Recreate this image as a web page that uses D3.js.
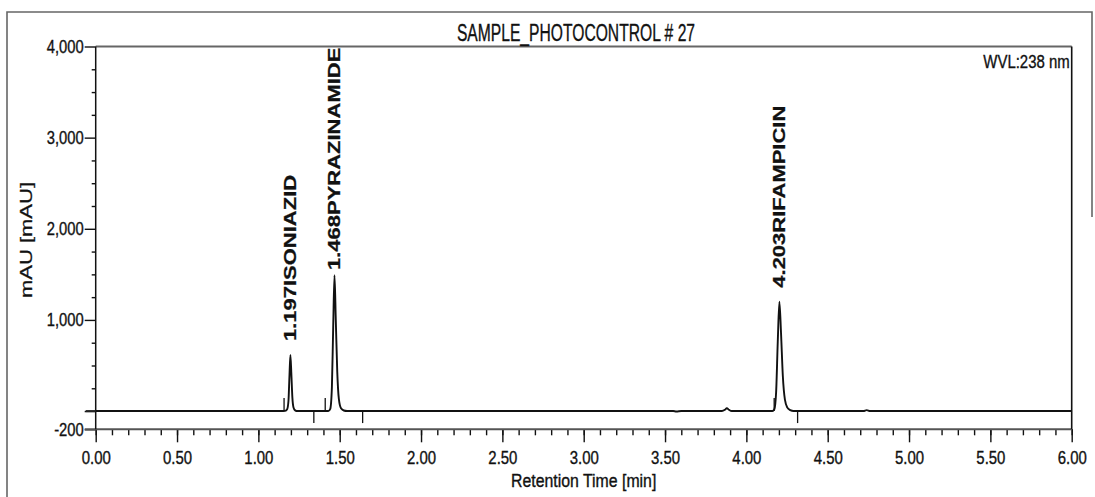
<!DOCTYPE html>
<html>
<head>
<meta charset="utf-8">
<script src="https://cdn.jsdelivr.net/npm/d3@7"></script>
<style>
  body { margin: 0; background: #fff; }
  text { font-family: "Liberation Sans", Arial, sans-serif; fill: #111; stroke: #111; stroke-width: 0.35px; }
</style>
</head>
<body>
<svg id="chrom" width="1095" height="497"></svg>
<script>
// chart texts
var title = "SAMPLE_PHOTOCONTROL # 27";
var wavelength = "WVL:238 nm";
var xTitle = "Retention Time [min]";
var yTitle = "mAU [mAU]";

// axis ticks
var xMajor = [0, 0.5, 1, 1.5, 2, 2.5, 3, 3.5, 4, 4.5, 5, 5.5, 6];
var yMajor = [-200, 0, 1000, 2000, 3000, 4000];
var yLabeled = [-200, 1000, 2000, 3000, 4000];

// identified peaks
var peakTimes = [1.197, 1.468, 4.203];
var peakNames = ["ISONIAZID", "PYRAZINAMIDE", "RIFAMPICIN"];
var peakHeights = [615, 1490, 1200];

// integration delimiters (min)
var startMarks = [1.158, 1.411, 4.171];
var endMarks = [1.341, 1.641, 4.315];

// detector trace: [time min, mAU]
var trace = [
  [0, 0], [1.14, 0], [1.165, 2], [1.177, 20], [1.185, 110], [1.191, 380], [1.197, 615],
  [1.203, 400], [1.209, 150], [1.216, 40], [1.226, 8], [1.24, 0],
  [1.43, 0], [1.442, 25], [1.452, 260], [1.46, 920], [1.468, 1490], [1.476, 1000],
  [1.485, 430], [1.495, 130], [1.508, 30], [1.525, 6], [1.545, 0],
  [3.55, 0], [3.57, -4], [3.6, 0],
  [3.85, 0], [3.868, 14], [3.88, 32], [3.893, 14], [3.91, 0],
  [4.16, 0], [4.172, 20], [4.183, 210], [4.193, 760], [4.203, 1200], [4.213, 860],
  [4.224, 390], [4.237, 125], [4.252, 38], [4.27, 10], [4.29, 0],
  [4.72, 0], [4.74, 10], [4.76, 0],
  [6, 0]
];

var svg = d3.select("#chrom"),
    margin = {top: 46.5, right: 23.3, bottom: 67.7, left: 95.7},
    width = +svg.attr("width") - margin.left - margin.right,
    height = +svg.attr("height") - margin.top - margin.bottom;

// outer frame of the printout
svg.append("path")
    .attr("d", "M7,497V12H1092V217")
    .attr("fill", "none")
    .attr("stroke", "#666")
    .attr("stroke-width", 1.6);

var g = svg.append("g").attr("transform", "translate(" + margin.left + "," + margin.top + ")");

var x = d3.scaleLinear().domain([0, 6]).range([0, width]);
var y = d3.scaleLinear().domain([-200, 4000]).range([height, 0]);

function squeeze(sel, k) {
  sel.each(function() {
    var w = this.getComputedTextLength();
    d3.select(this).attr("textLength", w * k).attr("lengthAdjust", "spacingAndGlyphs");
  });
}

// x axis: minor then major ticks
var xMinorAxis = g.append("g")
    .attr("transform", "translate(0," + height + ")")
    .call(d3.axisBottom(x).tickValues(d3.range(0, 6.001, 0.1)).tickSize(6).tickFormat(""));
xMinorAxis.select(".domain").remove();

var xAxis = g.append("g")
    .attr("transform", "translate(0," + height + ")")
    .call(d3.axisBottom(x).tickValues(xMajor).tickSize(13).tickFormat(d3.format(".2f")));
xAxis.select(".domain").remove();
xAxis.selectAll("text")
    .attr("y", 22)
    .style("font-size", "18px")
    .call(squeeze, 0.83);

// y axis
var yMinorAxis = g.append("g")
    .call(d3.axisLeft(y).tickValues(d3.range(250, 4000, 250).filter(function(d) { return d % 1000; }))
      .tickSize(4).tickFormat(""));
yMinorAxis.select(".domain").remove();

var yAxis = g.append("g")
    .call(d3.axisLeft(y).tickValues(yMajor).tickSize(11).tickPadding(1)
      .tickFormat(function(d) { return yLabeled.indexOf(d) < 0 ? "" : d3.format(",")(d).replace("\u2212", "-"); }));
yAxis.select(".domain").remove();
yAxis.selectAll("text")
    .style("font-size", "18px")
    .call(squeeze, 0.82);

g.selectAll(".tick line").attr("stroke", "#111").attr("stroke-width", 1.4);

// plot borders
g.append("line")
    .attr("x1", -11).attr("x2", width)
    .attr("y1", y(-200)).attr("y2", y(-200))
    .attr("stroke", "#555").attr("stroke-width", 2);
g.append("line")
    .attr("x1", 0).attr("x2", width)
    .attr("y1", y(4000)).attr("y2", y(4000))
    .attr("stroke", "#666").attr("stroke-width", 2.2);
g.append("line")
    .attr("x1", 0).attr("x2", 0)
    .attr("y1", 0).attr("y2", height)
    .attr("stroke", "#111").attr("stroke-width", 1.5);
g.append("line")
    .attr("x1", width).attr("x2", width)
    .attr("y1", 0).attr("y2", height)
    .attr("stroke", "#111").attr("stroke-width", 1.6);

// trace
var line = d3.line()
    .x(function(d) { return x(d[0]); })
    .y(function(d) { return y(d[1]); })
    .curve(d3.curveMonotoneX);

g.append("line")
    .attr("x1", -10).attr("x2", x(0))
    .attr("y1", y(0)).attr("y2", y(0))
    .attr("stroke", "#222").attr("stroke-width", 2);

g.append("path")
    .datum(trace)
    .attr("fill", "none")
    .attr("stroke", "#111")
    .attr("stroke-width", 1.9)
    .attr("stroke-linejoin", "round")
    .attr("d", line);

// peak delimiters
g.selectAll(".startMark")
  .data(startMarks)
  .enter().append("line")
    .attr("class", "startMark")
    .attr("x1", function(d) { return x(d); }).attr("x2", function(d) { return x(d); })
    .attr("y1", y(0)).attr("y2", y(0) - 13)
    .attr("stroke", "#111").attr("stroke-width", 1.3);

g.selectAll(".endMark")
  .data(endMarks)
  .enter().append("line")
    .attr("class", "endMark")
    .attr("x1", function(d) { return x(d); }).attr("x2", function(d) { return x(d); })
    .attr("y1", y(0)).attr("y2", y(0) + 12)
    .attr("stroke", "#111").attr("stroke-width", 1.3);

// peak labels
peakTimes.forEach(function(t, i) {
  var lab = g.append("g");
  var txt = lab.append("text")
      .attr("transform", "rotate(-90)")
      .style("font-size", "22px")
      .style("font-weight", "bold")
      .text(d3.format(".3f")(t) + peakNames[i]);
  var len = txt.node().getComputedTextLength();
  var py = y(peakHeights[i]) - 14;
  if (py - len < 1) py = 1 + len;
  lab.attr("transform", "translate(" + (x(t) + 5.5) + "," + py + ") scale(0.72,1)");
});

// texts
svg.append("text")
    .attr("x", 576).attr("y", 41)
    .attr("text-anchor", "middle")
    .style("font-size", "23px")
    .text(title)
    .call(squeeze, 0.68);

g.append("text")
    .attr("x", width - 2).attr("y", 21.5)
    .attr("text-anchor", "end")
    .style("font-size", "18px")
    .text(wavelength)
    .call(squeeze, 0.83);

g.append("text")
    .attr("x", width / 2).attr("y", 440)
    .attr("text-anchor", "middle")
    .style("font-size", "18px")
    .text(xTitle)
    .call(squeeze, 0.88);

svg.append("g")
    .attr("transform", "translate(31.5,240) scale(0.72,1)")
  .append("text")
    .attr("transform", "rotate(-90)")
    .attr("text-anchor", "middle")
    .style("font-size", "22px")
    .text(yTitle);
</script>
</body>
</html>
